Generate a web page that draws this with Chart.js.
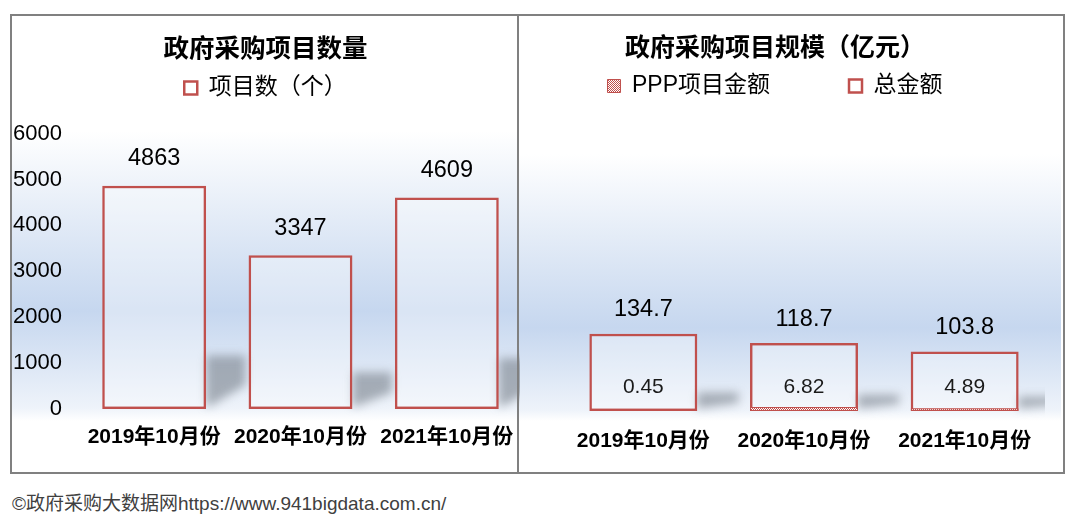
<!DOCTYPE html>
<html>
<head>
<meta charset="utf-8">
<script src="https://cdn.jsdelivr.net/npm/chart.js@4.4.0/dist/chart.umd.min.js"></script>
<style>
  body { margin: 0; background: #fff; width: 1078px; height: 520px; position: relative; overflow: hidden; }
  .frame { position: absolute; left: 10px; top: 14px; width: 1051px; height: 456px; border: 2px solid #808080; }
  .panel { position: absolute; top: 16px; height: 456px; }
  #bgLeft { left: 12px; width: 505px;
    background: linear-gradient(to bottom, #fff 0px, #fff 115px, #e4ecf7 200px, #c6d7ef 295px, #eef3fa 392px, #fff 405px); }
  #bgRight { left: 519px; width: 542px;
    background: linear-gradient(to bottom, #fff 0px, #fff 138px, #e4ecf7 220px, #c6d7ef 312px, #eef3fa 394px, #fff 405px); }
  .divider { position: absolute; left: 517px; top: 14px; width: 2px; height: 460px; background: #808080; z-index: 5; }
  canvas { position: absolute; top: 15px; }
  #countChart { left: 11px; }
  #amountChart { left: 505px; }
  .source { position: absolute; left: 12px; top: 488px; font: 19px "Liberation Sans", "Noto Sans CJK SC", sans-serif; color: #404040; }
</style>
</head>
<body>
<div class="frame"></div>
<div class="panel" id="bgLeft"></div>
<div class="panel" id="bgRight"></div>
<canvas id="countChart" width="509" height="457"></canvas>
<canvas id="amountChart" width="540" height="457"></canvas>
<div class="divider"></div>
<div class="source">©政府采购大数据网https://www.941bigdata.com.cn/</div>

<script>
// data
const months = ['2019年10月份', '2020年10月份', '2021年10月份'];
const projectCounts = [4863, 3347, 4609];
const pppAmounts = [0.45, 6.82, 4.89];
const totalAmounts = [134.7, 118.7, 103.8];
const countTicks = [0, 1000, 2000, 3000, 4000, 5000, 6000];

const RED = '#c0504d';
Chart.defaults.font.family = '"Liberation Sans", "Noto Sans CJK SC", sans-serif';
Chart.defaults.color = '#000';

// red / white dotted fill for the PPP series
function makePattern() {
    const c = document.createElement('canvas');
    c.width = 2; c.height = 2;
    const g = c.getContext('2d');
    g.fillStyle = '#fff';
    g.fillRect(0, 0, 2, 2);
    g.fillStyle = RED;
    g.fillRect(0, 0, 1, 1);
    g.fillRect(1, 1, 1, 1);
    return g.createPattern(c, 'repeat');
}

// extra room under the legend
const legendGap = {
    id: 'legendGap',
    beforeLayout(chart, args, opts) {
        if (!chart.legend || chart.legend._gapPatched) return;
        const fit = chart.legend.fit;
        chart.legend.fit = function () {
            fit.call(this);
            this.height += opts.gap || 0;
        };
        chart.legend._gapPatched = true;
    }
};

// soft grey shadow behind each outlined bar
const barShadow = {
    id: 'barShadow',
    beforeDatasetsDraw(chart) {
        const ctx = chart.ctx;
        chart.data.datasets.forEach((ds, i) => {
            if (!ds.shadow) return;
            chart.getDatasetMeta(i).data.forEach(bar => {
                const xr = bar.x + bar.width / 2;
                const h = (bar.base - bar.y) * 0.24;
                const w = bar.width * 0.38;
                ctx.save();
                ctx.filter = 'blur(5px)';
                ctx.fillStyle = 'rgba(120,128,138,0.6)';
                ctx.beginPath();
                ctx.moveTo(xr, bar.base - h);
                ctx.lineTo(xr + w, bar.base - h);
                ctx.lineTo(xr + w, bar.base - h * 0.45);
                ctx.lineTo(xr + 4, bar.base - 3);
                ctx.lineTo(xr, bar.base - 3);
                ctx.closePath();
                ctx.fill();
                ctx.restore();
            });
        });
    }
};

// value labels
const barLabels = {
    id: 'barLabels',
    afterDatasetsDraw(chart, args, opts) {
        const ctx = chart.ctx;
        ctx.save();
        ctx.textAlign = 'center';
        ctx.textBaseline = 'middle';
        chart.data.datasets.forEach((ds, i) => {
            chart.getDatasetMeta(i).data.forEach((bar, j) => {
                let y;
                if (ds.labelInside) {
                    ctx.font = '21px ' + Chart.defaults.font.family;
                    ctx.fillStyle = '#1a1a1a';
                    y = bar.base - opts.inside;
                } else {
                    ctx.font = '23.5px ' + Chart.defaults.font.family;
                    ctx.fillStyle = '#000';
                    y = bar.y - opts.above;
                }
                ctx.fillText(String(ds.data[j]), bar.x, y);
            });
        });
        ctx.restore();
    }
};

const xAxis = (pad, height) => ({
    grid: { display: false, drawTicks: false },
    border: { display: false },
    afterFit: s => {
        s.height = height;
        s.paddingLeft = 0;
        s.paddingRight = 0;
    },
    ticks: { padding: pad, maxRotation: 0, autoSkip: false, font: { size: 21, weight: 'bold' }, color: '#000' }
});

// left: project count
new Chart(document.getElementById('countChart'), {
    type: 'bar',
    data: {
        labels: months,
        datasets: [{
            label: '项目数（个）',
            data: projectCounts,
            backgroundColor: 'rgba(255,255,255,0.35)',
            borderColor: RED,
            borderWidth: 2.5,
            borderSkipped: false,
            barPercentage: 0.71,
            categoryPercentage: 1,
            shadow: true
        }]
    },
    options: {
        responsive: false,
        animation: false,
        scales: {
            x: xAxis(16, 63),
            y: {
                min: 0,
                max: 6000,
                afterBuildTicks: s => { s.ticks = countTicks.map(v => ({ value: v })); },
                afterFit: s => { s.width = 70; },
                grid: { display: false, drawTicks: false },
                border: { display: false },
                ticks: { padding: 19, font: { size: 22 }, color: '#000', callback: v => String(v) }
            }
        },
        plugins: {
            title: {
                display: true,
                text: '政府采购项目数量',
                font: { size: 25.5, weight: 'bold' },
                padding: { top: 20, bottom: 1 }
            },
            legend: {
                labels: { boxWidth: 13, boxHeight: 13, padding: 10, font: { size: 23 } }
            },
            legendGap: { gap: 24 },
            barLabels: { above: 27, inside: 24 },
            tooltip: { enabled: false }
        }
    },
    plugins: [legendGap, barShadow, barLabels]
});

// right: amounts
new Chart(document.getElementById('amountChart'), {
    type: 'bar',
    data: {
        labels: months,
        datasets: [{
            label: 'PPP项目金额',
            data: pppAmounts,
            backgroundColor: makePattern(),
            borderColor: RED,
            borderWidth: 1,
            borderSkipped: false,
            barPercentage: 0.672,
            categoryPercentage: 1,
            grouped: false,
            labelInside: true
        }, {
            label: '总金额',
            data: totalAmounts,
            backgroundColor: 'rgba(255,255,255,0.35)',
            borderColor: RED,
            borderWidth: 2.5,
            borderSkipped: false,
            barPercentage: 0.672,
            categoryPercentage: 1,
            grouped: false,
            shadow: true
        }]
    },
    options: {
        responsive: false,
        animation: false,
        scales: {
            x: xAxis(18, 61),
            y: {
                min: 0,
                max: 530,
                afterFit: s => { s.width = 58; },
                grid: { display: false, drawTicks: false },
                border: { display: false },
                ticks: { display: false }
            }
        },
        plugins: {
            title: {
                display: true,
                text: '政府采购项目规模（亿元）',
                font: { size: 25, weight: 'bold' },
                padding: { top: 19.5, bottom: 0 }
            },
            legend: {
                labels: {
                    boxWidth: 13,
                    boxHeight: 13,
                    padding: 10,
                    font: { size: 23 },
                    generateLabels: chart => {
                        const items = Chart.defaults.plugins.legend.labels.generateLabels(chart);
                        items[0].text += '\u2003\u2003\u2003';
                        return items;
                    }
                }
            },
            legendGap: { gap: 0 },
            barLabels: { above: 24, inside: 24 },
            tooltip: { enabled: false }
        }
    },
    plugins: [legendGap, barShadow, barLabels]
});
</script>
</body>
</html>
